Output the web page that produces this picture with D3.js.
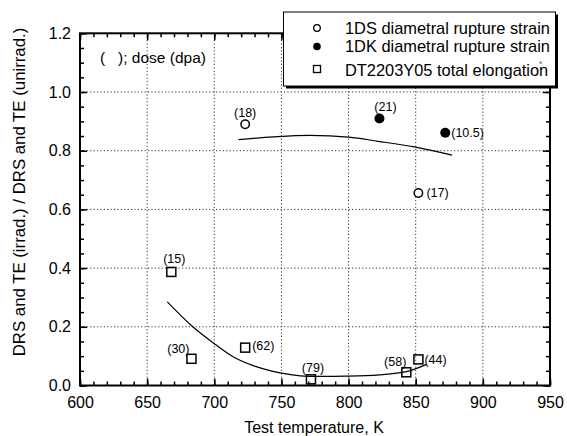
<!DOCTYPE html>
<html>
<head>
<meta charset="utf-8">
<script src="https://cdn.jsdelivr.net/npm/d3@7"></script>
<style>
  body { margin: 0; background: #fff; }
  text { font-family: "Liberation Sans", Arial, sans-serif; fill: #000; }
</style>
</head>
<body>
<svg id="chart"></svg>
<script>
// data
let xTicks = [600, 650, 700, 750, 800, 850, 900, 950],
    yTicks = [0.0, 0.2, 0.4, 0.6, 0.8, 1.0, 1.2];

// 1DS diametral rupture strain (open circles)
let dsTemp = [723, 852],
    dsValue = [0.89, 0.656],
    dsDose = ["(18)", "(17)"];

// 1DK diametral rupture strain (filled circles)
let dkTemp = [823, 872],
    dkValue = [0.91, 0.861],
    dkDose = ["(21)", "(10.5)"];

// DT2203Y05 total elongation (squares)
let teTemp = [668, 683, 723, 772, 843, 852],
    teValue = [0.387, 0.091, 0.129, 0.021, 0.045, 0.089],
    teDose = ["(15)", "(30)", "(62)", "(79)", "(58)", "(44)"];

// hand drawn trend curves
let upperCurve = [[718, 0.838], [744, 0.847], [771, 0.852], [800, 0.846], [822, 0.832], [849, 0.813], [877, 0.785]];
let lowerCurve = [[665, 0.285], [684, 0.200], [699, 0.146], [714, 0.098], [730, 0.066], [749, 0.043],
                  [764, 0.033], [800, 0.032], [823, 0.036], [843, 0.047], [858, 0.072]];

// where each dose label sits relative to its marker
let labelPlace = {
    "(18)": {dx: 0, dy: -7, anchor: "middle"},
    "(17)": {dx: 8, dy: 4, anchor: "start"},
    "(21)": {dx: 6, dy: -7, anchor: "middle"},
    "(10.5)": {dx: 6, dy: 4, anchor: "start"},
    "(15)": {dx: 3, dy: -9, anchor: "middle"},
    "(30)": {dx: -2, dy: -6, anchor: "end"},
    "(62)": {dx: 7, dy: 2, anchor: "start"},
    "(79)": {dx: 2, dy: -7, anchor: "middle"},
    "(58)": {dx: 0, dy: -6, anchor: "end"},
    "(44)": {dx: 6, dy: 5, anchor: "start"}
};

let width = 567,
    height = 436;

let svg = d3.select('#chart')
    .attr('width', width)
    .attr('height', height);

let x = d3.scaleLinear().domain([600, 950]).range([80, 550]);
let y = d3.scaleLinear().domain([0, 1.2]).range([385.5, 33.3]);

let plotTop = y(1.2), plotBottom = y(0), plotLeft = x(600), plotRight = x(950);

// dotted grid
let grid = svg.append('g')
    .attr('stroke', '#333')
    .attr('stroke-width', 1)
    .attr('stroke-dasharray', '1.2,2.2');

grid.selectAll('.gx')
    .data(xTicks.slice(1, -1))
    .enter().append('line')
    .attr('x1', d => x(d)).attr('x2', d => x(d))
    .attr('y1', plotTop).attr('y2', plotBottom);

grid.selectAll('.gy')
    .data(yTicks.slice(1, -1))
    .enter().append('line')
    .attr('x1', plotLeft).attr('x2', plotRight)
    .attr('y1', d => y(d)).attr('y2', d => y(d));

// axes, ticks pointing inward on all four sides
let xMinor = d3.range(600, 951, 10),
    yMinor = d3.range(0, 1.2001, 0.05);

function styleAxis(g) {
    g.select('.domain').remove();
    g.selectAll('line').attr('stroke', '#000').attr('stroke-width', 1.5);
    g.selectAll('text').attr('font-size', '16px').attr('fill', '#000')
        .attr('font-family', '"Liberation Sans", Arial, sans-serif');
}

svg.append('g').attr('transform', `translate(0,${plotBottom})`)
    .call(d3.axisBottom(x).tickValues(xMinor).tickSize(-4).tickFormat(''))
    .call(styleAxis);
svg.append('g').attr('transform', `translate(0,${plotBottom})`)
    .call(d3.axisBottom(x).tickValues(xTicks).tickSizeInner(-7).tickSizeOuter(0).tickPadding(11).tickFormat(d3.format('d')))
    .call(styleAxis);
svg.append('g').attr('transform', `translate(0,${plotTop})`)
    .call(d3.axisTop(x).tickValues(xMinor).tickSize(-4).tickFormat(''))
    .call(styleAxis);
svg.append('g').attr('transform', `translate(0,${plotTop})`)
    .call(d3.axisTop(x).tickValues(xTicks).tickSize(-7).tickFormat(''))
    .call(styleAxis);

svg.append('g').attr('transform', `translate(${plotLeft},0)`)
    .call(d3.axisLeft(y).tickValues(yMinor).tickSize(-4).tickFormat(''))
    .call(styleAxis);
svg.append('g').attr('transform', `translate(${plotLeft},0)`)
    .call(d3.axisLeft(y).tickValues(yTicks).tickSizeInner(-7).tickSizeOuter(0).tickPadding(9).tickFormat(d3.format('.1f')))
    .call(styleAxis);
svg.append('g').attr('transform', `translate(${plotRight},0)`)
    .call(d3.axisRight(y).tickValues(yMinor).tickSize(-4).tickFormat(''))
    .call(styleAxis);
svg.append('g').attr('transform', `translate(${plotRight},0)`)
    .call(d3.axisRight(y).tickValues(yTicks).tickSize(-7).tickFormat(''))
    .call(styleAxis);

// frame
svg.append('rect')
    .attr('x', plotLeft).attr('y', plotTop)
    .attr('width', plotRight - plotLeft).attr('height', plotBottom - plotTop)
    .attr('fill', 'none')
    .attr('stroke', '#000')
    .attr('stroke-width', 2);

// axis titles
svg.append('text')
    .attr('x', 314).attr('y', 433)
    .attr('text-anchor', 'middle')
    .attr('font-size', '16px')
    .text('Test temperature, K');

svg.append('text')
    .attr('transform', 'translate(25,192) rotate(-90)')
    .attr('text-anchor', 'middle')
    .attr('font-size', '16.8px')
    .text('DRS and TE (irrad.) / DRS and TE (unirrad.)');

svg.append('text')
    .attr('x', 100).attr('y', 63)
    .attr('font-size', '15.5px')
    .style('white-space', 'pre')
    .text('(   ); dose (dpa)');

// curves
let line = d3.line()
    .x(d => x(d[0]))
    .y(d => y(d[1]))
    .curve(d3.curveCatmullRom);

[upperCurve, lowerCurve].forEach(c => {
    svg.append('path')
        .attr('d', line(c))
        .attr('fill', 'none')
        .attr('stroke', '#000')
        .attr('stroke-width', 1.2);
});

// markers
let ds = dsTemp.map((t, i) => ({t: t, v: dsValue[i], dose: dsDose[i]})),
    dk = dkTemp.map((t, i) => ({t: t, v: dkValue[i], dose: dkDose[i]})),
    te = teTemp.map((t, i) => ({t: t, v: teValue[i], dose: teDose[i]}));

let marks = svg.append('g');

marks.selectAll('.ds')
    .data(ds)
    .enter().append('circle')
    .attr('cx', d => x(d.t)).attr('cy', d => y(d.v))
    .attr('r', 4.2)
    .attr('fill', '#fff').attr('stroke', '#000').attr('stroke-width', 1.5);

marks.selectAll('.dk')
    .data(dk)
    .enter().append('circle')
    .attr('cx', d => x(d.t)).attr('cy', d => y(d.v))
    .attr('r', 5)
    .attr('fill', '#000');

marks.selectAll('.te')
    .data(te)
    .enter().append('rect')
    .attr('x', d => x(d.t) - 4.5).attr('y', d => y(d.v) - 4.5)
    .attr('width', 9).attr('height', 9)
    .attr('fill', 'none').attr('stroke', '#000').attr('stroke-width', 1.5);

// dose labels
marks.selectAll('.lbl')
    .data(ds.concat(dk, te))
    .enter().append('text')
    .attr('x', d => x(d.t) + labelPlace[d.dose].dx)
    .attr('y', d => y(d.v) + labelPlace[d.dose].dy)
    .attr('text-anchor', d => labelPlace[d.dose].anchor)
    .attr('font-size', '12.5px')
    .text(d => d.dose);

// legend with drop shadow
let legend = svg.append('g');
legend.append('rect')
    .attr('x', 286).attr('y', 14.5).attr('width', 272).attr('height', 74)
    .attr('fill', '#000');
legend.append('rect')
    .attr('x', 283.5).attr('y', 12).attr('width', 272).attr('height', 74)
    .attr('fill', '#fff').attr('stroke', '#000').attr('stroke-width', 1);

let legendRows = [
    {label: '1DS diametral rupture strain', y: 28},
    {label: '1DK diametral rupture strain', y: 46.5},
    {label: 'DT2203Y05 total elongation', y: 70}
];

legend.append('circle').attr('cx', 317).attr('cy', legendRows[0].y).attr('r', 3.3)
    .attr('fill', '#fff').attr('stroke', '#000').attr('stroke-width', 1.3);
legend.append('circle').attr('cx', 317).attr('cy', legendRows[1].y).attr('r', 3.8)
    .attr('fill', '#000');
legend.append('rect').attr('x', 313.5).attr('y', legendRows[2].y - 4.5).attr('width', 7).attr('height', 7)
    .attr('fill', 'none').attr('stroke', '#000').attr('stroke-width', 1.3);

legend.selectAll('.lt')
    .data(legendRows)
    .enter().append('text')
    .attr('x', 345).attr('y', d => d.y + 5.5)
    .attr('font-size', '16.4px')
    .text(d => d.label);

legend.append('text')
    .attr('x', 539).attr('y', 67)
    .attr('font-size', '9px')
    .style('fill', '#666')
    .text('*');
</script>
</body>
</html>
